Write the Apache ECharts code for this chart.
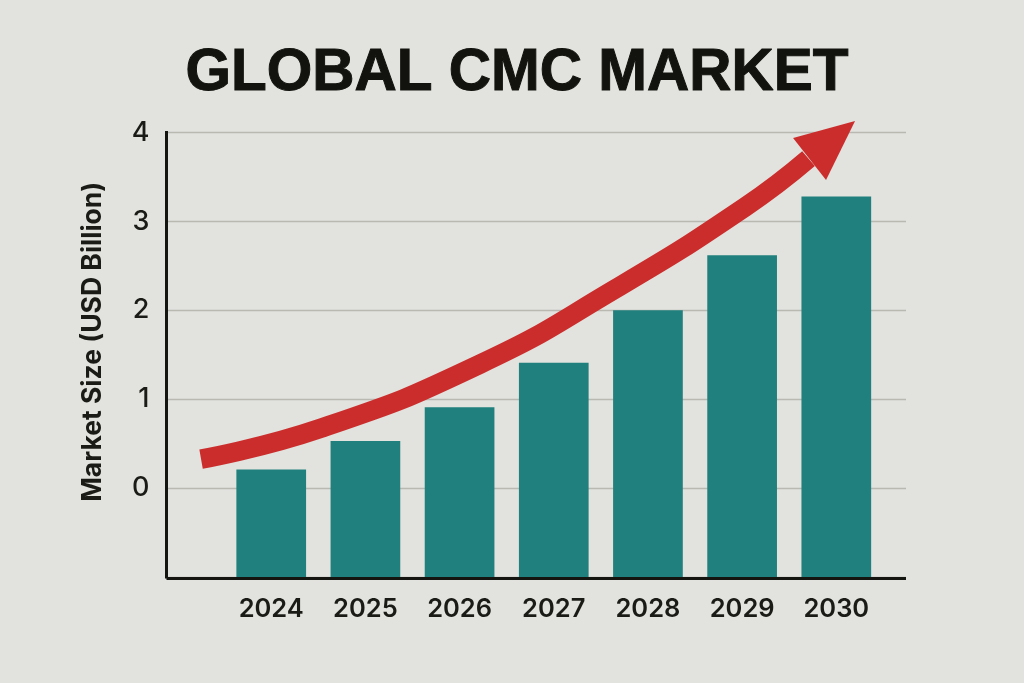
<!DOCTYPE html>
<html lang="en">
<head>
    <meta charset="UTF-8">
    <title>Global CMC Market</title>
    <script src="https://cdn.jsdelivr.net/npm/echarts@6/dist/echarts.min.js"></script>
    <style>
        html, body { margin: 0; padding: 0; background: #e2e2de; }
    </style>
</head>
<body>
<div style="width: 1024px; height: 683px" id="main-chart"></div>

<script type="text/javascript">
    // values
    var years = [2024, 2025, 2026, 2027, 2028, 2029, 2030];
    var marketSize = [0.21, 0.53, 0.91, 1.41, 2.0, 2.62, 3.28];

    // red trend arrow, in axis units
    var arrowYears = [2023.255, 2024.518, 2026.217, 2027.65, 2029.03, 2029.705];
    var arrowValues = [0.326, 0.67, 1.395, 2.238, 3.161, 3.706];
    var headYears = [2030.199, 2029.541, 2029.891];
    var headValues = [4.128, 3.937, 3.465];

    var labelFont = 'Inter, "Liberation Sans", sans-serif';
    var myChart = echarts.init(document.getElementById('main-chart'));

    var option = {
        backgroundColor: '#e2e2de',
        animation: false,
        title: {
            text: 'GLOBAL CMC MARKET',
            left: 512,
            top: 39,
            textAlign: 'center',
            textStyle: {
                fontFamily: '"Liberation Sans", Arial, sans-serif',
                fontWeight: 'bold',
                fontSize: 58.5,
                color: '#12120e',
                textBorderColor: '#12120e',
                textBorderWidth: 1
            }
        },
        grid: { left: 166.5, right: 118, top: 132.5, bottom: 106 },
        xAxis: {
            type: 'value',
            min: 2022.888,
            max: 2030.74,
            offset: 1,
            splitLine: { show: false },
            axisTick: { show: false },
            axisLine: {
                show: true,
                onZero: false,
                lineStyle: { color: '#141410', width: 3, cap: 'butt' }
            },
            axisLabel: {
                customValues: years,
                margin: 18,
                fontFamily: labelFont,
                fontWeight: 600,
                fontSize: 25.5,
                color: '#1a1a17',
                formatter: function (v) { return String(v); }
            }
        },
        yAxis: {
            type: 'value',
            min: -1,
            max: 4,
            interval: 1,
            name: 'Market Size (USD Billion)',
            nameLocation: 'middle',
            nameGap: 60,
            nameRotate: 90,
            nameTextStyle: {
                fontFamily: labelFont,
                fontWeight: 700,
                fontSize: 26.5,
                color: '#1a1a17',
                padding: [0, 0, 0, 26]
            },
            axisTick: { show: false },
            axisLine: {
                show: true,
                onZero: false,
                lineStyle: { color: '#141410', width: 3, cap: 'square' }
            },
            splitLine: { lineStyle: { color: '#b9b9b2', width: 1.4 } },
            axisLabel: {
                margin: 17,
                fontFamily: labelFont,
                fontWeight: 500,
                fontSize: 27,
                color: '#1a1a17',
                formatter: function (v) { return v < 0 ? '' : String(v); }
            }
        },
        series: [
            {
                // bars stand on the axis floor (-1), not on zero
                type: 'custom',
                name: 'Market Size',
                z: 2,
                data: years.map(function (y, i) { return [y, marketSize[i]]; }),
                renderItem: function (params, api) {
                    var top = api.coord([api.value(0), api.value(1)]);
                    var floor = api.coord([api.value(0), -1]);
                    var w = api.size([1, 0])[0] * 0.74;
                    return {
                        type: 'rect',
                        shape: { x: top[0] - w / 2, y: top[1], width: w, height: floor[1] - top[1] },
                        style: { fill: '#20807d' }
                    };
                }
            },
            {
                type: 'line',
                z: 3,
                smooth: 0.5,
                clip: false,
                symbol: 'none',
                lineStyle: { color: '#cb2d2c', width: 19.5, cap: 'butt' },
                data: arrowYears.map(function (y, i) { return [y, arrowValues[i]]; })
            },
            {
                type: 'custom',
                z: 4,
                data: headYears.map(function (y, i) { return [y, headValues[i]]; }),
                renderItem: function (params, api) {
                    if (params.dataIndex !== 0) {
                        return;
                    }
                    var pts = headYears.map(function (y, i) { return api.coord([y, headValues[i]]); });
                    return {
                        type: 'polygon',
                        shape: { points: pts },
                        style: { fill: '#cb2d2c' }
                    };
                }
            }
        ]
    };

    myChart.setOption(option);
</script>
</body>
</html>
